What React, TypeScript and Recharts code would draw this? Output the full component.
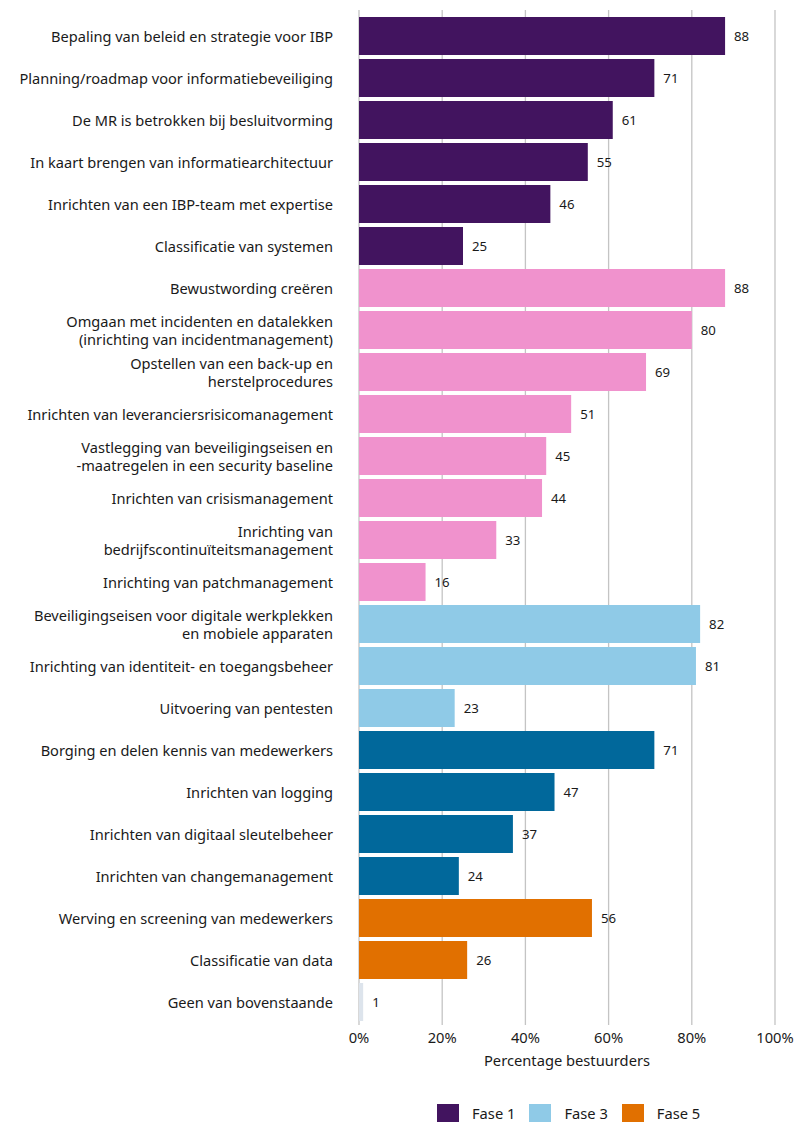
import { BarChart, Bar, XAxis, YAxis, CartesianGrid, Cell, LabelList } from "recharts";

const categories = [
  "Bepaling van beleid en strategie voor IBP",
  "Planning/roadmap voor informatiebeveiliging",
  "De MR is betrokken bij besluitvorming",
  "In kaart brengen van informatiearchitectuur",
  "Inrichten van een IBP-team met expertise",
  "Classificatie van systemen",
  "Bewustwording creëren",
  "Omgaan met incidenten en datalekken\n(inrichting van incidentmanagement)",
  "Opstellen van een back-up en\nherstelprocedures",
  "Inrichten van leveranciersrisicomanagement",
  "Vastlegging van beveiligingseisen en\n-maatregelen in een security baseline",
  "Inrichten van crisismanagement",
  "Inrichting van\nbedrijfscontinuïteitsmanagement",
  "Inrichting van patchmanagement",
  "Beveiligingseisen voor digitale werkplekken\nen mobiele apparaten",
  "Inrichting van identiteit- en toegangsbeheer",
  "Uitvoering van pentesten",
  "Borging en delen kennis van medewerkers",
  "Inrichten van logging",
  "Inrichten van digitaal sleutelbeheer",
  "Inrichten van changemanagement",
  "Werving en screening van medewerkers",
  "Classificatie van data",
  "Geen van bovenstaande",
];

const values = [88, 71, 61, 55, 46, 25, 88, 80, 69, 51, 45, 44, 33, 16, 82, 81, 23, 71, 47, 37, 24, 56, 26, 1];

// fase per bar (0 = geen)
const phases = [1, 1, 1, 1, 1, 1, 2, 2, 2, 2, 2, 2, 2, 2, 3, 3, 3, 4, 4, 4, 4, 5, 5, 0];

const xTicks = [0, 20, 40, 60, 80, 100];

const phaseColors: Record<number, string> = {
  0: "#dde4ec",
  1: "#42145f",
  2: "#f092cd",
  3: "#8fcae7",
  4: "#01689b",
  5: "#e17000",
};

const legendItems = [
  { label: "Fase 1", phase: 1 },
  { label: "Fase 3", phase: 3 },
  { label: "Fase 5", phase: 5 },
];

const data = categories.map((name, i) => ({ name, value: values[i], phase: phases[i] }));

const FONT = "'Noto Sans', 'Open Sans', sans-serif";

function CategoryTick(props: any) {
  const { x, y, payload } = props;
  const lines = String(payload.value).split("\n");
  const lineH = 18;
  const startY = y - ((lines.length - 1) * lineH) / 2;
  return (
    <text x={x} y={startY} textAnchor="end" fontSize={14.6} fill="#1a1a1a" fontFamily={FONT} dominantBaseline="central">
      {lines.map((l, i) => (
        <tspan key={i} x={x} y={startY + i * lineH}>
          {l}
        </tspan>
      ))}
    </text>
  );
}

export default function App() {
  return (
    <div style={{ position: "absolute", left: 0, top: 0, width: 796, height: 1122, background: "#fff", fontFamily: FONT }}>
      <BarChart
        width={796}
        height={1090}
        data={data}
        layout="vertical"
        margin={{ top: 10, right: 21, bottom: 0, left: 0 }}
      >
        <CartesianGrid horizontal={false} stroke="#c4c4c4" strokeWidth={1.3} />
        <XAxis
          type="number"
          domain={[0, 100]}
          ticks={xTicks}
          tickFormatter={(v) => `${v}%`}
          axisLine={false}
          tickLine={false}
          height={65}
          tick={{ fontSize: 14.7, fill: "#1a1a1a", fontFamily: FONT }}
          label={{ value: "Percentage bestuurders", position: "insideBottom", offset: 24, fontSize: 14.7, fill: "#1a1a1a", fontFamily: FONT }}
        />
        <YAxis
          type="category"
          dataKey="name"
          width={359}
          axisLine={false}
          tickLine={false}
          tickSize={0}
          tickMargin={26}
          interval={0}
          padding={{ top: 5, bottom: 2 }}
          tick={<CategoryTick />}
        />
        <Bar dataKey="value" barSize={38} isAnimationActive={false}>
          {data.map((d, i) => (
            <Cell key={i} fill={phaseColors[d.phase]} />
          ))}
          <LabelList dataKey="value" position="right" offset={9} fontSize={13.2} fill="#1a1a1a" fontFamily={FONT} />
        </Bar>
      </BarChart>
      <div style={{ position: "absolute", top: 1103, left: 437, display: "flex", alignItems: "center", fontSize: 14.7, color: "#1a1a1a" }}>
        {legendItems.map((it) => (
          <div key={it.label} style={{ display: "flex", alignItems: "center", marginRight: 14 }}>
            <span style={{ display: "inline-block", width: 22, height: 19, background: phaseColors[it.phase], marginRight: 13 }} />
            <span>{it.label}</span>
          </div>
        ))}
      </div>
    </div>
  );
}
